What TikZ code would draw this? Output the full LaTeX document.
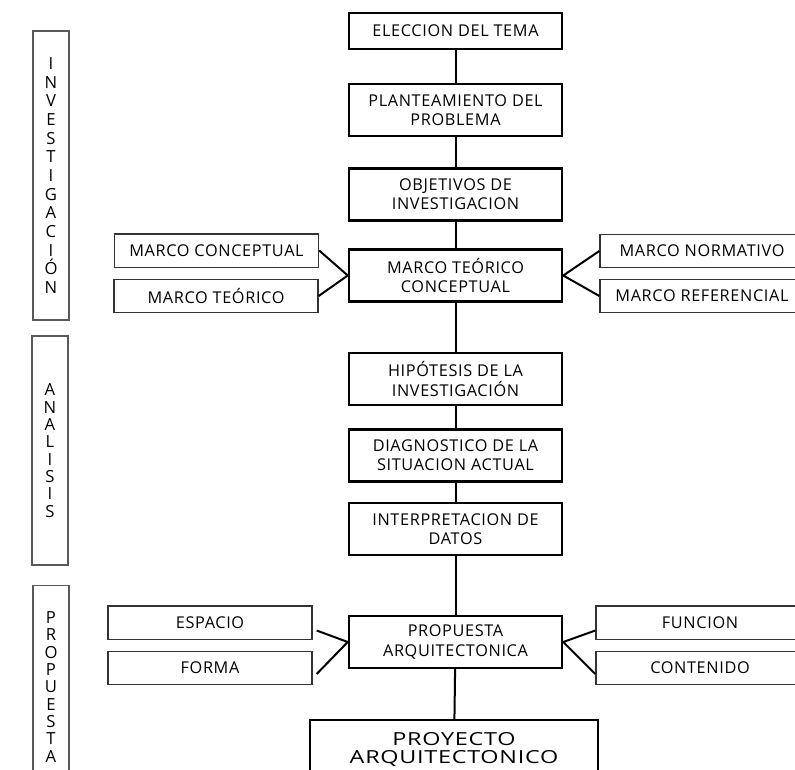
\documentclass[tikz,border=0pt]{standalone}
\usepackage{fontspec}
\setmainfont{Open Sans}[LetterSpace=4]
\newfontfamily\anchafont{Open Sans}[FakeStretch=1.3,LetterSpace=4]
\usepackage{tikz}

\tikzset{
  paso/.style={draw, line width=1.6pt, minimum width=160pt, minimum height=39pt, align=center, inner sep=2pt, font=\fontsize{12.2}{14.5}\selectfont},
  marco/.style={draw=black!80, line width=1pt, minimum width=153pt, minimum height=25pt, inner sep=2pt, font=\fontsize{12.2}{14}\selectfont},
  etapa/.style={draw=black!65, line width=0.8pt, minimum width=27pt, align=center, inner sep=0pt, font=\fontsize{12.5}{14}\selectfont},
  enlace/.style={line width=1.5pt}
}

\begin{document}
\begin{tikzpicture}[x=0.75pt,y=0.75pt,yscale=-1,xscale=1]
%set diagram to 795 x 770
\clip (0,0) rectangle (795,770);
\fill [white] (0,0) rectangle (795,770);

%Shape: Stage boxes
\node [etapa, minimum height=216.75pt] (inv) at (51,175.5) {I\\N\\V\\E\\S\\T\\I\\G\\A\\C\\I\\Ó\\N};
\node [etapa, minimum height=171.75pt, font=\fontsize{12.5}{13}\selectfont] (ana) at (50,450.5) {A\\N\\A\\L\\I\\S\\I\\S};
\node [etapa, minimum height=152pt, font=\fontsize{12.5}{13}\selectfont] (pro) at (51,687) {P\\R\\O\\P\\U\\E\\S\\T\\A};

%Shape: Main column
\node [paso, minimum height=27pt] (elec) at (455.5,31) {ELECCION DEL TEMA};
\node [paso] (plan) at (455.5,110) {PLANTEAMIENTO DEL\\PROBLEMA};
\node [paso] (obj) at (455.5,194.5) {OBJETIVOS DE\\INVESTIGACION};
\node [paso] (mtc) at (455.5,275.5) {MARCO TEÓRICO\\CONCEPTUAL};
\node [paso] (hip) at (455.5,379) {HIPÓTESIS DE LA\\INVESTIGACIÓN};
\node [paso] (diag) at (455.5,455.5) {DIAGNOSTICO DE LA\\SITUACION ACTUAL};
\node [paso] (interp) at (455.5,529) {INTERPRETACION DE\\DATOS};
\node [paso] (prop) at (455.5,642) {PROPUESTA\\ARQUITECTONICA};
\node [paso, minimum width=216pt, minimum height=43.5pt, font=\anchafont\fontsize{13.5}{13.5}\selectfont] (proy) at (454,749) {PROYECTO\\ARQUITECTONICO};

%Shape: Side boxes
\node [marco] (mconc) at (216.5,250.5) {MARCO CONCEPTUAL};
\node [marco] (mteo) at (216,296) {MARCO TEÓRICO};
\node [marco] (mnorm) at (702,251) {MARCO NORMATIVO};
\node [marco] (mref) at (702,296) {MARCO REFERENCIAL};
\node [marco] (esp) at (210,622.5) {ESPACIO};
\node [marco] (forma) at (210,668) {FORMA};
\node [marco, minimum width=156pt] (func) at (700,622.5) {FUNCION};
\node [marco, minimum width=156pt] (cont) at (700,668) {CONTENIDO};

%Straight Lines: main column
\draw [enlace] (elec) -- (plan);
\draw [enlace] (plan) -- (obj);
\draw [enlace] (obj) -- (mtc);
\draw [enlace] (mtc) -- (hip);
\draw [enlace] (hip) -- (diag);
\draw [enlace] (diag) -- (interp);
\draw [enlace] (interp) -- (prop);
\draw [enlace] (prop) -- (proy);

%Straight Lines: branches
\draw [enlace] (mconc.east) -- (mtc.west) -- (mteo.east);
\draw [enlace] (mnorm.west) -- (mtc.east) -- (mref.west);
\draw [enlace] ([xshift=3pt,yshift=6pt]esp.east) -- (prop.west) -- ([xshift=3pt,yshift=4.5pt]forma.east);
\draw [enlace] ([yshift=6pt]func.west) -- (prop.east) -- ([yshift=4.5pt]cont.west);

\end{tikzpicture}
\end{document}
